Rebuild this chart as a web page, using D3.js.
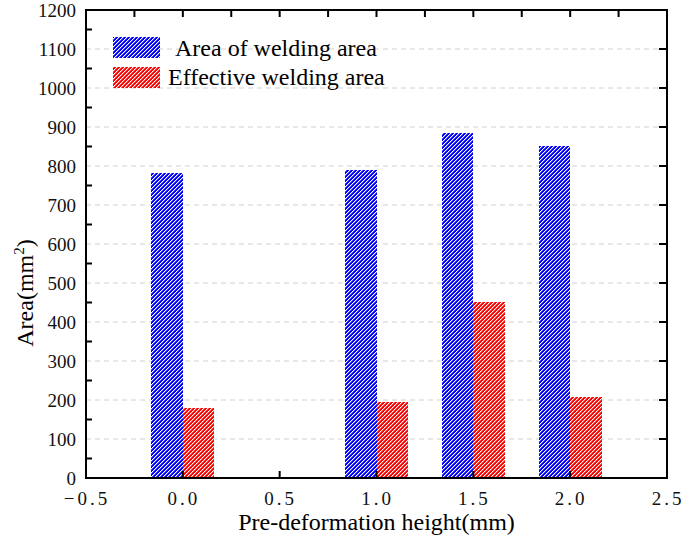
<!DOCTYPE html>
<html><head><meta charset="utf-8">
<script src="https://cdn.jsdelivr.net/npm/d3@7"></script>
<style>body{margin:0;background:#fff}svg{display:block}</style>
</head><body>
<script>
const categories = [0.0, 1.0, 1.5, 2.0];
const weldingArea = [783, 791, 884, 852];
const effectiveArea = [179, 195, 451, 208];
const seriesNames = ["Area of welding area", "Effective welding area"];
const xTicks = [-0.5, 0.0, 0.5, 1.0, 1.5, 2.0, 2.5];
const yTicks = [0,100,200,300,400,500,600,700,800,900,1000,1100,1200];

const W = 685, H = 541;
const m = {l:86, r:667, t:10, b:478};
const svg = d3.select("body").append("svg").attr("width",W).attr("height",H);
const x = d3.scaleLinear().domain([-0.5,2.5]).range([m.l,m.r]);
const y = d3.scaleLinear().domain([0,1200]).range([m.b,m.t]);
const barW = 0.163;
const font = "'Liberation Serif','Times New Roman',serif";

const defs = svg.append("defs");
function hatch(id,color){
  const p = defs.append("pattern").attr("id",id).attr("patternUnits","userSpaceOnUse")
    .attr("width",4).attr("height",4);
  p.append("rect").attr("width",4).attr("height",4).attr("fill",color);
  // white diagonal "/" stripes drawn as pixel steps
  [[3,0],[2,1],[1,2],[0,3]].forEach(([a,b])=>{
    p.append("rect").attr("x",a).attr("y",b).attr("width",1).attr("height",1).attr("fill","#fff");
  });
  [[3,1],[2,2],[1,3],[0,0]].forEach(([a,b])=>{
    p.append("rect").attr("x",a).attr("y",b).attr("width",1).attr("height",1).attr("fill","#fff").attr("opacity",0.35);
  });
}
hatch("hb","#0000ff");
hatch("hr","#ff0000");

// grid
svg.append("g").selectAll("line").data(yTicks.filter(d=>d>0&&d<1200)).join("line")
  .attr("x1",m.l).attr("x2",m.r).attr("y1",d=>y(d)).attr("y2",d=>y(d))
  .attr("stroke","#d0d0d0").attr("stroke-width",1).attr("stroke-dasharray","5,4");

// bars
const series = [{vals:weldingArea,fill:"url(#hb)",off:-barW},{vals:effectiveArea,fill:"url(#hr)",off:0}];
series.forEach(s=>{
  svg.append("g").selectAll("rect").data(categories).join("rect")
    .attr("x",(d)=>Math.round(x(d+s.off)))
    .attr("width",(d)=>Math.round(x(d+s.off+barW))-Math.round(x(d+s.off)))
    .attr("y",(d,i)=>Math.round(y(s.vals[i])))
    .attr("height",(d,i)=>y(0)-Math.round(y(s.vals[i])))
    .attr("fill",s.fill);
});

// axes
const ax = svg.append("g").attr("stroke","#000").attr("stroke-width",2);
ax.selectAll(".bt").data(xTicks.slice(1,-1)).join("line")
  .attr("x1",d=>x(d)).attr("x2",d=>x(d)).attr("y1",m.b).attr("y2",m.b-7);
ax.selectAll(".tt").data(d3.range(-0.25,2.5,0.25)).join("line")
  .attr("x1",d=>x(d)).attr("x2",d=>x(d)).attr("y1",m.t).attr("y2",m.t+7);
ax.selectAll(".lt").data(d3.range(50,1200,100)).join("line")
  .attr("x1",m.l).attr("x2",m.l+6).attr("y1",d=>y(d)).attr("y2",d=>y(d));
ax.selectAll(".rt").data(yTicks.filter(d=>d>0&&d<1200)).join("line")
  .attr("x1",m.r).attr("x2",m.r-8).attr("y1",d=>y(d)).attr("y2",d=>y(d));
svg.append("rect").attr("x",m.l).attr("y",m.t).attr("width",m.r-m.l).attr("height",m.b-m.t)
  .attr("fill","none").attr("stroke","#000").attr("stroke-width",2);

// tick labels
svg.append("g").selectAll("text").data(yTicks).join("text")
  .attr("x",76).attr("y",d=>y(d)+6.5).attr("text-anchor","end")
  .attr("font-family",font).attr("font-size",19).attr("fill","#111")
  .text(d=>d);
const fx = d => (d<0?"\u2212":"") + d3.format(".1f")(Math.abs(d));
svg.append("g").selectAll("text").data(xTicks).join("text")
  .attr("x",d=>x(d)+1).attr("y",505).attr("text-anchor","middle")
  .attr("font-family",font).attr("font-size",19).attr("fill","#111")
  .attr("letter-spacing","3px")
  .text(fx);

// titles
svg.append("text").attr("x",(m.l+m.r)/2).attr("y",530).attr("text-anchor","middle")
  .attr("font-family",font).attr("font-size",24).attr("fill","#000")
  .text("Pre-deformation height(mm)");
const yl = svg.append("text").attr("transform","translate(33,293) rotate(-90)")
  .attr("text-anchor","middle").attr("font-family",font).attr("font-size",24).attr("fill","#000");
yl.append("tspan").text("Area(mm");
yl.append("tspan").attr("font-size",15).attr("dy",-9).text("2");
yl.append("tspan").attr("dy",9).text(")");

// legend
const leg = [{fill:"url(#hb)",y:37,tx:175,ty:56},{fill:"url(#hr)",y:67,tx:168,ty:85}];
leg.forEach((l,i)=>{
  svg.append("rect").attr("x",113).attr("y",l.y).attr("width",47).attr("height",21).attr("fill",l.fill);
  svg.append("text").attr("x",l.tx).attr("y",l.ty).attr("font-family",font).attr("font-size",24)
    .attr("fill","#000").text(seriesNames[i]);
});
</script>
</body></html>
